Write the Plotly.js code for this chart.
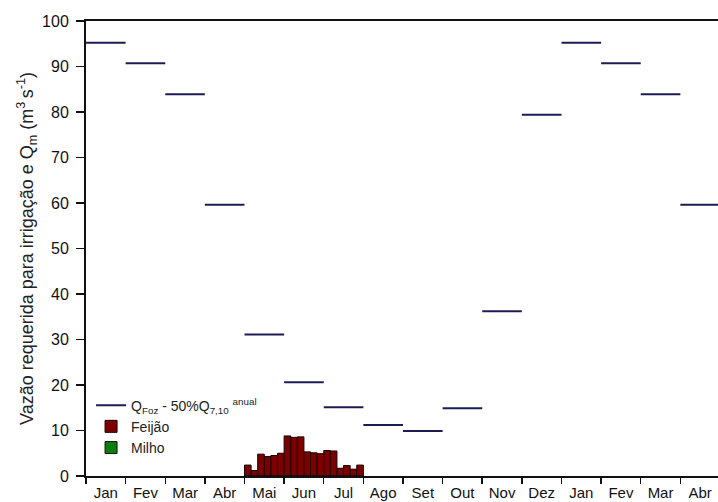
<!DOCTYPE html>
<html>
<head>
<meta charset="utf-8">
<script src="https://cdn.plot.ly/plotly-3.0.1.min.js"></script>
<style>html,body{margin:0;padding:0;background:#fff;}#chart{width:718px;height:502px;}</style>
</head>
<body>
<div id="chart"></div>
<script>
// Month labels (16 months shown)
const months = ["Jan","Fev","Mar","Abr","Mai","Jun","Jul","Ago","Set","Out","Nov","Dez","Jan","Fev","Mar","Abr"];
// Q_Foz - 50% Q7,10 anual, per month (m3/s)
const qFoz = [95.2, 90.7, 83.9, 59.6, 31.1, 20.6, 15.1, 11.2, 9.9, 14.9, 36.2, 79.4, 95.2, 90.7, 83.9, 59.6];
// Feijão irrigation demand, 5-day periods from start of Mai (month index 4) to end of Jul
const feijaoStartMonth = 4;
const periodsPerMonth = 6;
const feijao = [2.4, 1.2, 4.8, 4.3, 4.5, 5.0, 8.8, 8.5, 8.6, 5.3, 5.1, 4.9, 5.6, 5.5, 1.7, 2.3, 1.5, 2.4];
// Milho: no demand visible in the period shown (zero in every period)
const milho = [0, 0, 0, 0, 0, 0, 0, 0, 0, 0, 0, 0, 0, 0, 0, 0, 0, 0];

const lineX = [], lineY = [];
qFoz.forEach((v, i) => { lineX.push(i, i + 1, null); lineY.push(v, v, null); });

const barX = feijao.map((_, i) => feijaoStartMonth + (i + 0.5) / periodsPerMonth);
const monthCenters = months.map((_, i) => i + 0.5);
const monthEdges = months.map((_, i) => i).concat([months.length]);

const traces = [
  {type: 'scatter', mode: 'lines', x: lineX, y: lineY,
   name: 'Q<sub>Foz</sub> - 50%Q<sub>7,10</sub> <sup>anual</sup>',
   line: {color: '#1c1c55', width: 2}, connectgaps: false, hoverinfo: 'skip'},
  {type: 'bar', x: barX, y: feijao, width: 1 / periodsPerMonth, name: 'Feijão',
   marker: {color: '#7c0000', line: {color: '#1a0000', width: 1}}},
  {type: 'bar', x: barX, y: milho, width: 1 / periodsPerMonth, name: 'Milho',
   marker: {color: '#0a7d0a', line: {color: '#111', width: 1}}}
];

const layout = {
  width: 718, height: 502,
  margin: {l: 86, r: 0, t: 21, b: 26, pad: 0},
  paper_bgcolor: '#fff', plot_bgcolor: '#fff',
  font: {family: 'Liberation Sans, Arial, sans-serif', color: '#111', size: 14},
  showlegend: true,
  bargap: 0,
  barmode: 'overlay',
  legend: {x: 0.008, y: 0.19, xanchor: 'left', yanchor: 'top', bgcolor: 'rgba(0,0,0,0)',
           font: {size: 14, color: '#222'}, traceorder: 'normal', tracegroupgap: 0, itemwidth: 30},
  xaxis: {range: [0, 15.95], tickmode: 'array', tickvals: monthCenters, ticktext: months,
          ticks: '', showgrid: false, zeroline: false, showline: true, linecolor: '#111', linewidth: 2,
          mirror: true, tickfont: {size: 15, color: '#111'}, ticklabelstandoff: 2,
          minor: {tickmode: 'array', tickvals: monthEdges, ticks: 'outside', ticklen: 6, tickwidth: 1.5, tickcolor: '#111', showgrid: false}},
  yaxis: {range: [0, 100], tickmode: 'linear', tick0: 0, dtick: 10, ticks: 'outside', ticklen: 8, tickwidth: 1.5,
          tickcolor: '#111', showgrid: false, zeroline: false, showline: true, linecolor: '#111', linewidth: 2,
          tickfont: {size: 16, color: '#111'}, ticklabelstandoff: 4,
          title: {text: 'Vazão requerida para irrigação e Q<sub>m</sub> (m<sup>3 </sup>s<sup>-1</sup>)',
                  font: {size: 18, color: '#222'}, standoff: 4}}
};

Plotly.newPlot('chart', traces, layout, {staticPlot: true, displayModeBar: false});
</script>
</body>
</html>
